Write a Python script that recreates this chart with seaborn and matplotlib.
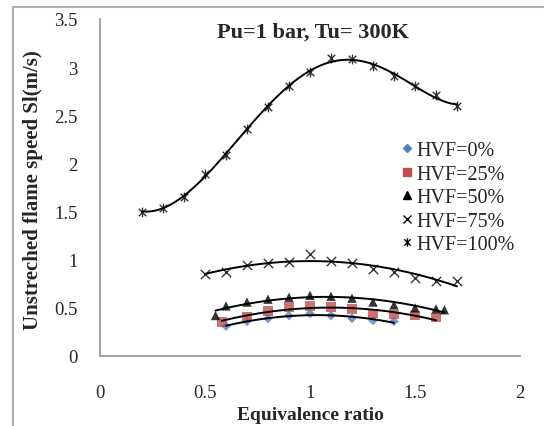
import matplotlib
matplotlib.use("Agg")
import matplotlib.pyplot as plt
import seaborn as sns
import pandas as pd
from matplotlib.lines import Line2D
from matplotlib.path import Path
from matplotlib.patches import Rectangle

# equivalence ratio / flame speed (m/s) per hydrogen volume fraction
phi_0 = [0.6, 0.7, 0.8, 0.9, 1.0, 1.1, 1.2, 1.3, 1.4]
sl_0 = [0.31, 0.36, 0.39, 0.42, 0.44, 0.42, 0.39, 0.37, 0.36]

phi_25 = [0.58, 0.7, 0.8, 0.9, 1.0, 1.1, 1.2, 1.3, 1.4, 1.5, 1.6]
sl_25 = [0.35, 0.41, 0.47, 0.51, 0.52, 0.51, 0.49, 0.44, 0.43, 0.42, 0.40]

phi_50 = [0.55, 0.6, 0.7, 0.8, 0.9, 1.0, 1.1, 1.2, 1.3, 1.4, 1.5, 1.6, 1.64]
sl_50 = [0.42, 0.52, 0.56, 0.59, 0.61, 0.63, 0.62, 0.60, 0.56, 0.53, 0.50, 0.49, 0.48]

phi_75 = [0.5, 0.6, 0.7, 0.8, 0.9, 1.0, 1.1, 1.2, 1.3, 1.4, 1.5, 1.6, 1.7]
sl_75 = [0.85, 0.87, 0.94, 0.97, 0.98, 1.06, 0.99, 0.97, 0.90, 0.87, 0.81, 0.78, 0.78]

phi_100 = [0.2, 0.3, 0.4, 0.5, 0.6, 0.7, 0.8, 0.9, 1.0, 1.1, 1.2, 1.3, 1.4, 1.5, 1.6, 1.7]
sl_100 = [1.50, 1.54, 1.65, 1.89, 2.09, 2.36, 2.59, 2.80, 2.95, 3.10, 3.08, 3.01, 2.91, 2.80, 2.71, 2.60]

labels = ["HVF=0%", "HVF=25%", "HVF=50%", "HVF=75%", "HVF=100%"]

star = Path([(-1, -1), (1, 1), (-1, 1), (1, -1), (0, -1.3), (0, 1.3)],
            [Path.MOVETO, Path.LINETO, Path.MOVETO, Path.LINETO, Path.MOVETO, Path.LINETO])

series = [
    (phi_0, sl_0, "D", "#4f81bd", 24, 2),
    (phi_25, sl_25, "s", "#c0504d", 48, 2),
    (phi_50, sl_50, "^", "black", 45, 2),
    (phi_75, sl_75, "x", "black", 45, 2),
    (phi_100, sl_100, star, "black", 50, 5),
]

sns.set_style("white")
plt.rcParams["font.family"] = ["Liberation Serif", "DejaVu Serif"]

fig = plt.figure(figsize=(5.44, 4.27), dpi=100)
ax = fig.add_axes([100 / 544, 70 / 427, 420 / 544, 337 / 427])

for (x, y, mk, col, size, order), lab in zip(series, labels):
    df = pd.DataFrame({"phi": x, "sl": y})
    edge = col if mk in ("x",) or mk is star else "none"
    sns.regplot(
        data=df, x="phi", y="sl", ax=ax, order=order, ci=None, marker=mk, color=col,
        scatter_kws=dict(s=size, linewidths=1.0, edgecolors=edge, zorder=2),
        line_kws=dict(color="black", linewidth=1.4, zorder=3),
    )

ax.set_xlim(0, 2)
ax.set_ylim(0, 3.5)
ax.set_xticks([0, 0.5, 1, 1.5, 2])
ax.set_xticklabels(["0", "0.5", "1", "1.5", "2"])
ax.set_yticks([0, 0.5, 1, 1.5, 2, 2.5, 3, 3.5])
ax.set_yticklabels(["0", "0.5", "1", "1.5", "2", "2.5", "3", "3.5"])
ax.tick_params(axis="x", length=0, pad=20, labelsize=13.5)
ax.tick_params(axis="y", length=0, pad=16, labelsize=13.5)
for s in ["top", "right"]:
    ax.spines[s].set_visible(False)
for s in ["left", "bottom"]:
    ax.spines[s].set_color("#a6a6a6")
    ax.spines[s].set_linewidth(1.5)

ax.set_xlabel("Equivalence ratio", fontsize=14, fontweight="bold")
ax.xaxis.set_label_coords(0.5, (357 - 416) / 337)
ax.xaxis.label.set_va("center")
ax.set_ylabel("Unstreched flame speed Sl(m/s)", fontsize=15, fontweight="bold")
ax.yaxis.set_label_coords((33 - 100) / 420, (357 - 190) / 337)
ax.yaxis.label.set_va("center")
fig.text(313 / 544, 1 - 33 / 427, "Pu=1 bar, Tu= 300K", ha="center", va="center",
         fontsize=16, fontweight="bold")

handles = []
for (x, y, mk, col, size, order) in series:
    handles.append(Line2D([], [], linestyle="none", marker=mk, color=col,
                          markersize=6 if mk != "D" else 4.5, markeredgewidth=1.0))
ax.legend(handles, labels, loc="upper left", bbox_to_anchor=(392 / 544, 1 - 132 / 427),
          bbox_transform=fig.transFigure, frameon=False, fontsize=14.5,
          handlelength=0.5, handletextpad=0.2, labelspacing=0.22, borderpad=0)

fig.patches.append(Rectangle((13 / 544, -0.1), 1.2, (1 - 8 / 427) + 0.1, transform=fig.transFigure,
                             fill=False, edgecolor="#b0b0b0", linewidth=1.5))

fig.savefig("out.png", dpi=100)
